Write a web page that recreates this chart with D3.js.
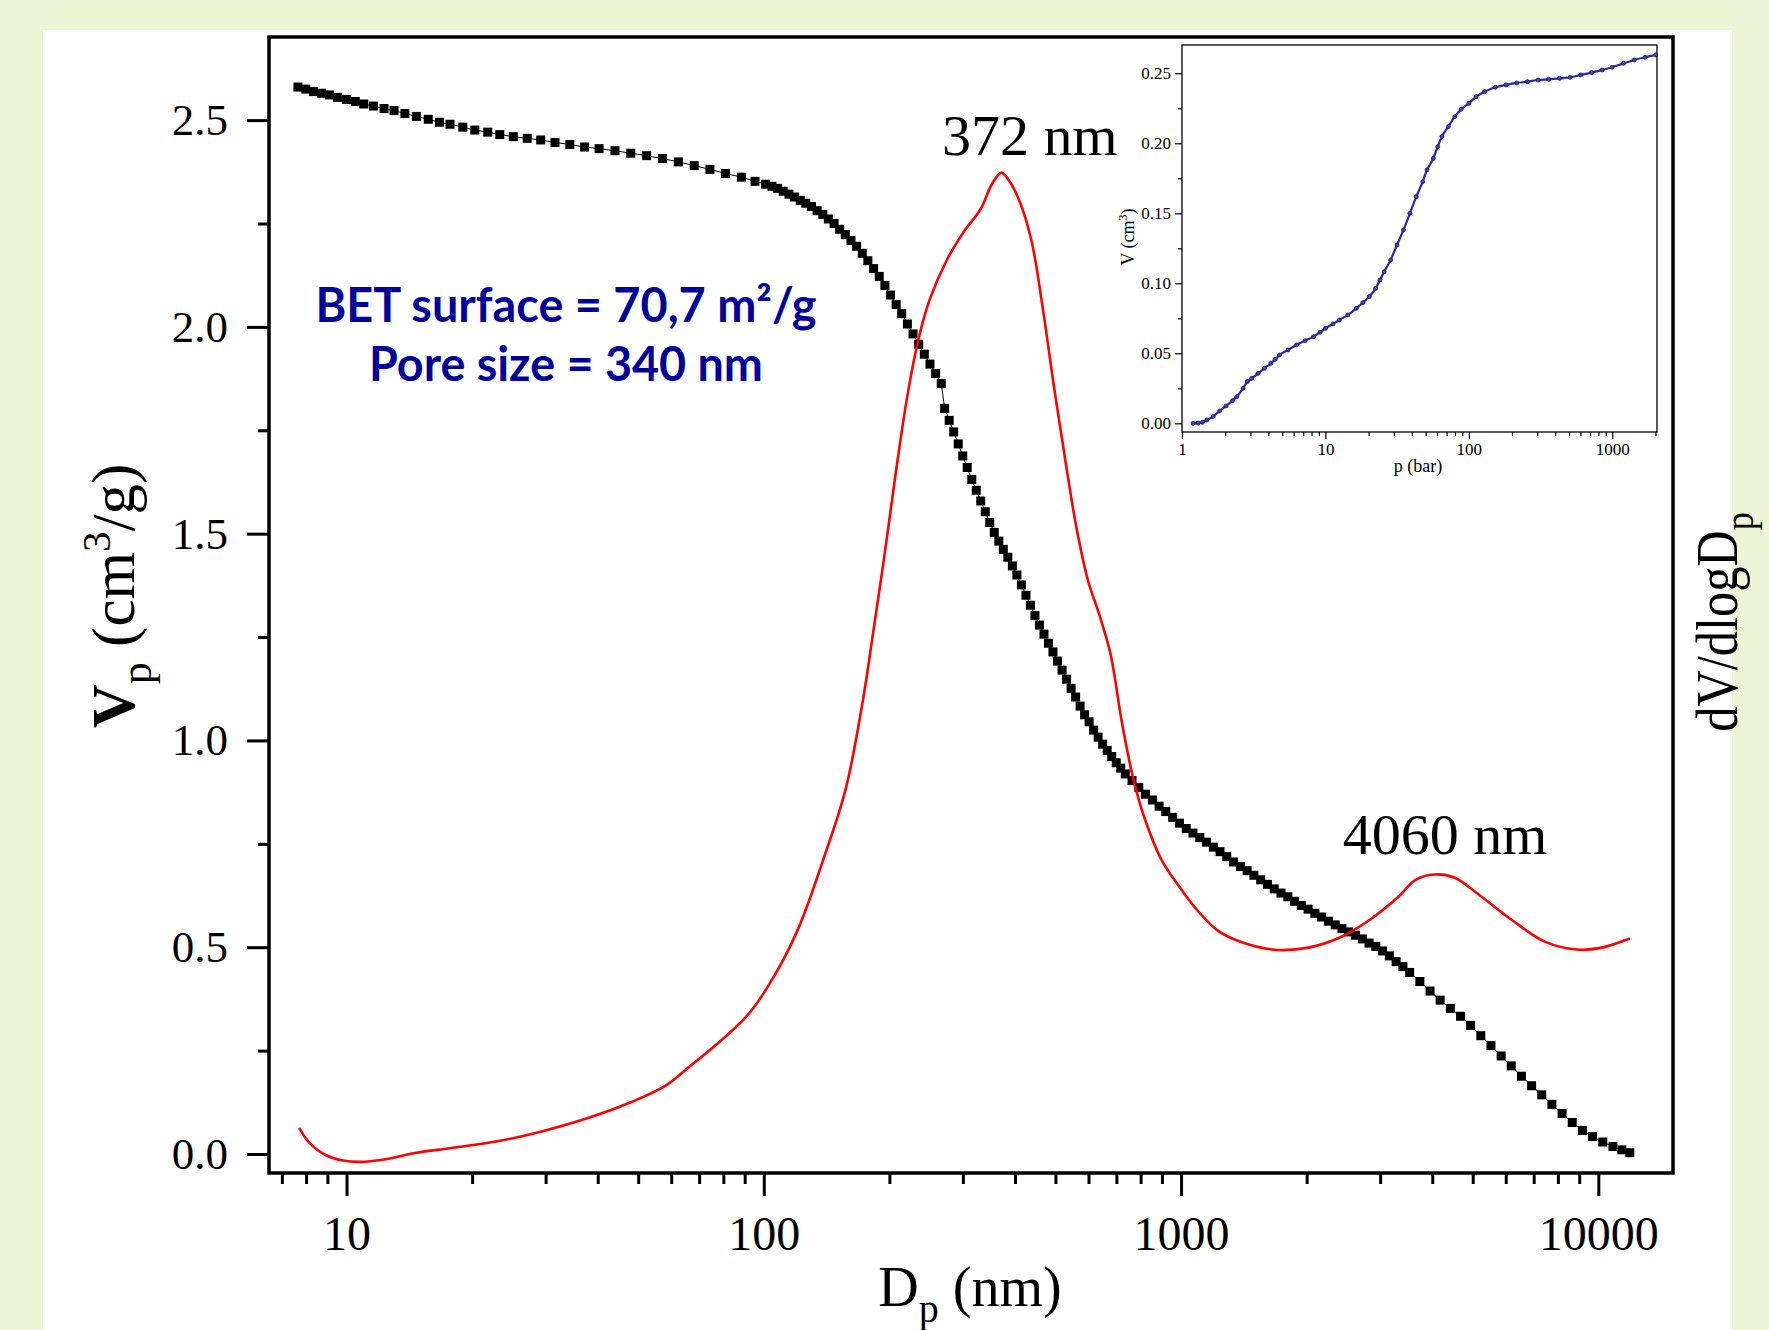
<!DOCTYPE html>
<html>
<head>
<meta charset="utf-8">
<script src="https://cdn.jsdelivr.net/npm/d3@7"></script>
<style>
	body { margin: 0; background: #fff; }
	text { font-family: "Liberation Serif", "Times New Roman", serif; }
</style>
</head>
<body>
<svg id="chart" width="1769" height="1330"></svg>
<script>
// cumulative pore volume, Vp (cm3/g) vs pore diameter Dp (nm)
const vpDiam = [7.65, 7.99, 8.34, 8.72, 9.11, 9.51, 10.0, 10.5, 11.0, 11.6, 12.3, 13.0, 13.8, 14.7, 15.7, 16.7, 17.7, 19.0, 20.3, 21.8,
	23.3, 25.1, 27.1, 29.2, 31.6, 34.3, 37.2, 40.3, 44.0, 48.0, 52.4, 57.2, 62.4, 68.1, 74.3, 81.0, 88.4, 95.3, 101,
	104.6, 108, 111.3, 114.9, 118.5, 122.3, 126.1, 130.1, 134.2, 138.5, 142.8, 147.4, 152, 156.8, 161.8, 166.9, 172.2, 177.6,
	183.3, 189.1, 195.1, 201.2, 207.6, 214.1, 220.9, 227.9, 235.1, 242.5, 250.2, 258.2, 266.3,
	271.3, 278.2, 285.2, 292.4, 299.8, 307.3, 315.1, 323, 331.1, 339.5, 348, 356.8, 365.8, 375, 384.5, 394.3, 404.2, 414.4,
	424.9, 435.5, 446.5, 457.8, 469.3, 481.1, 493.2, 505.6, 518.7, 531.7, 545.1, 558.9, 572.9, 587.3, 602.1, 617.3, 632.9,
	648.8, 665.2, 682.1, 699.3, 716.9, 735.1,
	763, 792, 822, 854, 886, 919, 955, 991, 1029, 1068, 1109, 1151, 1195, 1240, 1287, 1336, 1388, 1440, 1495, 1552, 1611,
	1672, 1736, 1803, 1871, 1942, 2016, 2093, 2173, 2255, 2341, 2430, 2523, 2619, 2719, 2822, 2930, 3041, 3157, 3277, 3402,
	3531, 3735, 3951, 4178, 4420, 4675, 4943, 5229, 5530, 5850, 6185, 6543, 6920, 7319, 7741, 8188, 8660, 9161, 9687,
	10250, 10840, 11390, 11900];
const vpVol = [2.580, 2.575, 2.569, 2.565, 2.561, 2.555, 2.550, 2.545, 2.539, 2.534, 2.528, 2.523, 2.516, 2.509, 2.502, 2.495, 2.490, 2.483, 2.476, 2.471,
	2.465, 2.460, 2.456, 2.452, 2.446, 2.441, 2.435, 2.431, 2.426, 2.420, 2.414, 2.407, 2.399, 2.390, 2.381, 2.371, 2.362, 2.352, 2.345,
	2.340, 2.335, 2.328, 2.321, 2.314, 2.306, 2.299, 2.291, 2.281, 2.272, 2.261, 2.250, 2.236, 2.223, 2.209, 2.195, 2.178, 2.160,
	2.141, 2.122, 2.100, 2.077, 2.054, 2.032, 2.007, 1.983, 1.958, 1.934, 1.910, 1.887, 1.863,
	1.803, 1.774, 1.746, 1.717, 1.688, 1.660, 1.631, 1.605, 1.579, 1.553, 1.527, 1.503, 1.482, 1.462, 1.443, 1.422, 1.400, 1.376,
	1.351, 1.327, 1.302, 1.279, 1.257, 1.235, 1.214, 1.192, 1.170, 1.148, 1.126, 1.105, 1.083, 1.062, 1.045, 1.025, 1.008,
	0.991, 0.976, 0.961, 0.946, 0.933, 0.919,
	0.903, 0.886, 0.870, 0.856, 0.841, 0.828, 0.814, 0.800, 0.787, 0.776, 0.765, 0.754, 0.742, 0.731, 0.719, 0.706, 0.695, 0.685, 0.674, 0.663, 0.652,
	0.641, 0.631, 0.622, 0.611, 0.601, 0.592, 0.582, 0.573, 0.563, 0.554, 0.545, 0.537, 0.529, 0.520, 0.510, 0.502, 0.491, 0.479, 0.465, 0.453,
	0.439, 0.417, 0.394, 0.372, 0.352, 0.333, 0.311, 0.286, 0.262, 0.237, 0.213, 0.188, 0.165, 0.143, 0.120, 0.098, 0.076, 0.057, 0.042,
	0.029, 0.018, 0.010, 0.003];

// pore size distribution dV/dlogDp (no scale on the right axis, same units as left)
const psdDiam = [7.7, 8.15, 8.94, 9.82, 10.8, 12.2, 14.7, 17.7, 22.8, 29.2, 37.4, 48.0, 57.9, 65.6, 79.1, 92.4, 108, 122, 138, 157,
	172, 183, 195, 207, 221, 235, 250, 275, 302, 331, 352, 371, 387, 412, 439, 467, 497, 529, 563, 599,
	637, 678, 721, 768, 817, 897, 986, 1082, 1225, 1388, 1672, 2018, 2432, 2839, 3319, 3648, 4050, 4529, 5129, 6183,
	7464, 8995, 10190, 11900];
const psdVal = [0.063, 0.027, -0.003, -0.016, -0.019, -0.014, 0.003, 0.014, 0.030, 0.054, 0.085, 0.125, 0.164, 0.207, 0.275, 0.341, 0.445, 0.554, 0.704, 0.881,
	1.085, 1.263, 1.454, 1.645, 1.835, 1.972, 2.067, 2.163, 2.231, 2.285, 2.345, 2.373, 2.354, 2.299, 2.204, 2.040, 1.849, 1.672, 1.508, 1.385,
	1.304, 1.208, 1.045, 0.908, 0.813, 0.712, 0.649, 0.595, 0.540, 0.513, 0.494, 0.499, 0.526, 0.567, 0.622, 0.663, 0.676, 0.668, 0.630, 0.567,
	0.513, 0.494, 0.499, 0.521];

// inset: intrusion curve V (cm3) vs p (bar)
const isoP = [1.195, 1.298, 1.390, 1.489, 1.651, 1.829, 2.028, 2.248, 2.407, 2.668, 2.858, 3.061, 3.393, 3.761, 4.169, 4.465, 4.782,
	5.486, 6.292, 7.218, 8.279, 9.178, 10.03, 11.28, 12.50, 14.34, 16.45, 18.23, 20.21, 22.40, 23.99, 25.69, 28.48, 31.57,
	34.99, 38.80, 43.00, 47.66, 51.06, 56.58, 60.62, 64.90, 71.94, 79.73, 88.37, 100.0, 112.4, 128.9, 153.0, 181.7, 215.8,
	256.1, 304.0, 360.9, 428.5, 508.7, 603.9, 716.9, 851.1, 996.5, 1199, 1424, 1690, 2007];
const isoV = [0, 0.0002, 0.0007, 0.0024, 0.0048, 0.0088, 0.0124, 0.0162, 0.0190, 0.0250, 0.0298, 0.0321, 0.0357, 0.0393, 0.0429, 0.0457, 0.0488,
	0.0524, 0.0560, 0.0590, 0.0619, 0.0650, 0.0679, 0.0710, 0.0738, 0.0774, 0.0821, 0.0862, 0.0905, 0.0964, 0.1024, 0.1083, 0.1167, 0.1274,
	0.1381, 0.1500, 0.1619, 0.1726, 0.1810, 0.1893, 0.1976, 0.2048, 0.2119, 0.2190, 0.2243, 0.2286, 0.2333, 0.2369, 0.2400, 0.2417, 0.2431,
	0.2440, 0.2452, 0.2457, 0.2464, 0.2471, 0.2488, 0.2505, 0.2524, 0.2543, 0.2571, 0.2595, 0.2614, 0.2631];

// ticks
const xMajor = [10, 100, 1000, 10000];
const yMajor = [0, 0.5, 1.0, 1.5, 2.0, 2.5];
const yMinor = [0.25, 0.75, 1.25, 1.75, 2.25];
const inXMajor = [1, 10, 100, 1000];
const inYMajor = [0, 0.05, 0.10, 0.15, 0.20, 0.25];

const peakLabels = [
	{ text: "372 nm", d: 372 },
	{ text: "4060 nm", d: 4060 }
];

const svg = d3.select("#chart");

// page background + white slide panel
svg.append("rect").attr("width", 1769).attr("height", 1330).attr("fill", "#eef4d6");
svg.append("rect").attr("x", 43).attr("y", 30).attr("width", 1689).attr("height", 1300).attr("fill", "#fff");

// MAIN PLOT
const box = { left: 269, right: 1673, top: 37, bottom: 1173 };

const x = d3.scaleLog().domain([6.52, 15100]).range([box.left, box.right]);
const y = d3.scaleLinear().domain([-0.046, 2.701]).range([box.bottom, box.top]);
const yR = y.copy(); // right axis has no ticks

// minor ticks 2..9 for every decade within the domain
const xMinor = [];
[1, 10, 100, 1000].forEach(dec => {
	d3.range(2, 10).forEach(m => {
		const v = m * dec;
		if (v >= x.domain()[0] && v <= x.domain()[1]) xMinor.push(v);
	});
});

const gX = svg.append("g").attr("transform", `translate(0,${box.bottom})`);
gX.call(d3.axisBottom(x).tickValues(xMinor).tickSize(11).tickFormat(""));
gX.selectAll(".tick line").attr("stroke-width", 3);
const gX2 = svg.append("g").attr("transform", `translate(0,${box.bottom})`);
gX2.call(d3.axisBottom(x).tickValues(xMajor).tickSize(23).tickPadding(20).tickFormat(d3.format("d")));
gX2.selectAll(".tick line").attr("stroke-width", 3);
gX2.selectAll(".tick text").attr("font-size", 48).attr("fill", "#000");

const gY = svg.append("g").attr("transform", `translate(${box.left},0)`);
gY.call(d3.axisLeft(y).tickValues(yMinor).tickSize(11).tickFormat(""));
gY.selectAll(".tick line").attr("stroke-width", 3);
const gY2 = svg.append("g").attr("transform", `translate(${box.left},0)`);
gY2.call(d3.axisLeft(y).tickValues(yMajor).tickSize(22).tickPadding(19).tickFormat(d3.format(".1f")));
gY2.selectAll(".tick line").attr("stroke-width", 3);
gY2.selectAll(".tick text").attr("font-size", 45).attr("fill", "#000");

svg.selectAll(".domain").remove();

// frame
svg.append("rect")
	.attr("x", box.left).attr("y", box.top)
	.attr("width", box.right - box.left).attr("height", box.bottom - box.top)
	.attr("fill", "none").attr("stroke", "#000").attr("stroke-width", 3.5);

// clip for series
svg.append("clipPath").attr("id", "clipMain")
	.append("rect").attr("x", box.left).attr("y", box.top)
	.attr("width", box.right - box.left).attr("height", box.bottom - box.top);

const gSeries = svg.append("g").attr("clip-path", "url(#clipMain)");

const vpData = vpDiam.map((d, i) => ({ d: d, v: vpVol[i] }));
const psdData = psdDiam.map((d, i) => ({ d: d, v: psdVal[i] }));

// Vp: thin connecting line + square markers
gSeries.append("path")
	.datum(vpData)
	.attr("fill", "none").attr("stroke", "#000").attr("stroke-width", 1)
	.attr("d", d3.line().x(d => x(d.d)).y(d => y(d.v)));
gSeries.selectAll(".sq")
	.data(vpData)
	.enter()
	.append("rect")
	.attr("class", "sq")
	.attr("x", d => x(d.d) - 4.5)
	.attr("y", d => y(d.v) - 4.5)
	.attr("width", 9).attr("height", 9)
	.attr("fill", "#000");

// dV/dlogDp in red
gSeries.append("path")
	.datum(psdData)
	.attr("fill", "none").attr("stroke", "#ff0000").attr("stroke-width", 2.6)
	.attr("d", d3.line().curve(d3.curveCatmullRom).x(d => x(d.d)).y(d => yR(d.v)));

// peak annotations
svg.append("text").attr("x", x(peakLabels[0].d) + 28).attr("y", 155)
	.attr("text-anchor", "middle").attr("font-size", 58).text(peakLabels[0].text);
svg.append("text").attr("x", x(peakLabels[1].d) + 10).attr("y", 854)
	.attr("text-anchor", "middle").attr("font-size", 58).text(peakLabels[1].text);

// BET box text
const bet = svg.append("g")
	.attr("fill", "#00009a")
	.attr("font-weight", "bold")
	.attr("font-size", 47)
	.attr("text-anchor", "middle");
bet.append("text").attr("x", 566).attr("y", 322)
	.attr("textLength", 501).attr("lengthAdjust", "spacingAndGlyphs")
	.style("font-family", "Lato, sans-serif")
	.text("BET surface = 70,7 m²/g");
bet.append("text").attr("x", 566).attr("y", 381)
	.attr("textLength", 394).attr("lengthAdjust", "spacingAndGlyphs")
	.style("font-family", "Lato, sans-serif")
	.text("Pore size = 340 nm");

// axis titles
const xt = svg.append("text").attr("x", 970).attr("y", 1306)
	.attr("text-anchor", "middle").attr("font-size", 56);
xt.append("tspan").text("D");
xt.append("tspan").attr("font-size", 40).attr("dy", 16).text("p");
xt.append("tspan").attr("dy", -16).text(" (nm)");

const ytl = svg.append("text")
	.attr("transform", "translate(134,596) rotate(-90)")
	.attr("text-anchor", "middle").attr("font-size", 61);
ytl.append("tspan").attr("font-weight", "bold").text("V");
ytl.append("tspan").attr("font-size", 44).attr("dy", 17).text("p");
ytl.append("tspan").attr("dy", -17).text(" (cm");
ytl.append("tspan").attr("font-size", 41).attr("dy", -24).text("3");
ytl.append("tspan").attr("dy", 24).text("/g)");

// right title, a little condensed like the original
const ytr = svg.append("text")
	.attr("transform", "translate(1737,622) rotate(-90) scale(0.84,1)")
	.attr("text-anchor", "middle").attr("font-size", 60);
ytr.append("tspan").text("dV/dlogD");
ytr.append("tspan").attr("font-size", 43).attr("dy", 16).text("p");

// INSET
const ibox = { left: 1182, right: 1657, top: 45, bottom: 432 };
const xi = d3.scaleLog().domain([1, 2050]).range([ibox.left, ibox.right]);
const yi = d3.scaleLinear().domain([-0.0062, 0.2702]).range([ibox.bottom, ibox.top]);

svg.append("rect")
	.attr("x", ibox.left).attr("y", ibox.top)
	.attr("width", ibox.right - ibox.left).attr("height", ibox.bottom - ibox.top)
	.attr("fill", "#fff").attr("stroke", "#000").attr("stroke-width", 1.3);

const inXMinor = [];
[1, 10, 100, 1000].forEach(dec => {
	d3.range(2, 10).forEach(m => {
		if (m * dec <= xi.domain()[1]) inXMinor.push(m * dec);
	});
});
const inYMinor = d3.range(0.025, 0.27, 0.05);

const gi = svg.append("g");
const gix = gi.append("g").attr("transform", `translate(0,${ibox.bottom})`);
gix.call(d3.axisBottom(xi).tickValues(inXMinor).tickSize(4).tickFormat(""));
const gix2 = gi.append("g").attr("transform", `translate(0,${ibox.bottom})`);
gix2.call(d3.axisBottom(xi).tickValues(inXMajor).tickSize(7).tickPadding(4).tickFormat(d3.format("d")));
const giy = gi.append("g").attr("transform", `translate(${ibox.left},0)`);
giy.call(d3.axisLeft(yi).tickValues(inYMinor).tickSize(4).tickFormat(""));
const giy2 = gi.append("g").attr("transform", `translate(${ibox.left},0)`);
giy2.call(d3.axisLeft(yi).tickValues(inYMajor).tickSize(7).tickPadding(4).tickFormat(d3.format(".2f")));
gi.selectAll(".domain").remove();
gi.selectAll(".tick line").attr("stroke-width", 1.2);
gi.selectAll(".tick text").attr("font-size", 17).attr("fill", "#000");

gi.append("text").attr("x", 1418).attr("y", 472)
	.attr("text-anchor", "middle").attr("font-size", 18).text("p (bar)");
const yit = gi.append("text")
	.attr("transform", "translate(1134,237) rotate(-90)")
	.attr("text-anchor", "middle").attr("font-size", 18);
yit.append("tspan").text("V (cm");
yit.append("tspan").attr("font-size", 12).attr("dy", -7).text("3");
yit.append("tspan").attr("dy", 7).text(")");

const isoData = isoP.map((p, i) => ({ p: p, v: isoV[i] }));
gi.append("path")
	.datum(isoData)
	.attr("fill", "none").attr("stroke", "#2a2aa0").attr("stroke-width", 2.2)
	.attr("d", d3.line().curve(d3.curveMonotoneX).x(d => xi(d.p)).y(d => yi(d.v)));
gi.selectAll(".pt")
	.data(isoData)
	.enter()
	.append("circle")
	.attr("class", "pt")
	.attr("cx", d => xi(d.p))
	.attr("cy", d => yi(d.v))
	.attr("r", 2)
	.attr("fill", "#3c3cd8")
	.attr("stroke", "#1c1c48")
	.attr("stroke-width", 0.8);
</script>
</body>
</html>
